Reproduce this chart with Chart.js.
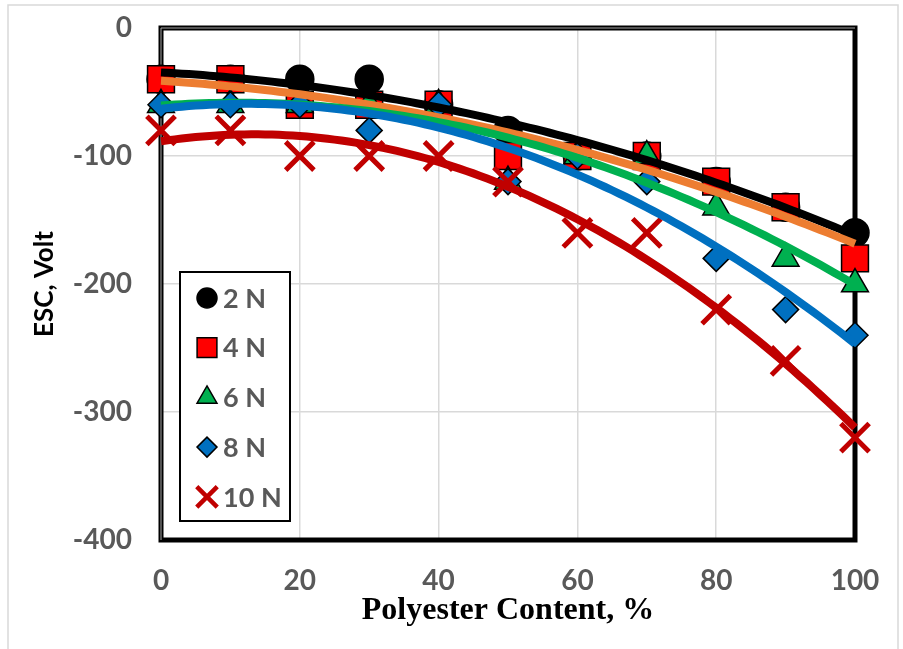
<!DOCTYPE html>
<html>
<head>
<meta charset="utf-8">
<script src="https://cdn.jsdelivr.net/npm/chart.js@4.4.1/dist/chart.umd.min.js"></script>
<style>
  html, body { margin: 0; padding: 0; background: #fff; }
  #wrap { width: 903px; height: 649px; }
</style>
</head>
<body>
<div id="wrap"><canvas id="esc"></canvas></div>
<script>
// Electrostatic charge vs. polyester content, one series per normal load
const content = [0, 10, 20, 30, 40, 50, 60, 70, 80, 90, 100];
const esc2N  = [-40, -40, -40, -40, -60, -80, -100, -100, -120, -140, -160];
const esc4N  = [-40, -40, -60, -60, -60, -100, -100, -100, -120, -140, -180];
const esc6N  = [-60, -60, -60, -60, -60, -120, -100, -100, -140, -180, -200];
const esc8N  = [-60, -60, -60, -80, -60, -120, -100, -120, -180, -220, -240];
const esc10N = [-80, -80, -100, -100, -100, -120, -160, -160, -220, -260, -320];
const loadLabels = ['2 N', '4 N', '6 N', '8 N', '10 N'];
const xTicks = [0, 20, 40, 60, 80, 100];
const yTicks = [-400, -300, -200, -100, 0];

const seriesValues = [esc2N, esc4N, esc6N, esc8N, esc10N];

// marker + trendline look for each load
const styles = [
  { pointStyle: 'circle',   radius: 14,   legendRadius: 10,  fill: '#000000', stroke: '#000000', border: 1.5, trend: '#000000' },
  { pointStyle: 'rect',     radius: 19,   legendRadius: 14,  fill: '#ff0000', stroke: '#000000', border: 1.5, trend: '#ed7d31' },
  { pointStyle: 'triangle', radius: 15.5, legendRadius: 11.5, fill: '#00b050', stroke: '#000000', border: 1.5, trend: '#00b050' },
  { pointStyle: 'rectRot',  radius: 13,   legendRadius: 10,  fill: '#0070c0', stroke: '#000000', border: 1.5, trend: '#0070c0' },
  { pointStyle: 'crossRot', radius: 20,   legendRadius: 14.5, fill: '#c00000', stroke: '#c00000', border: 5,   trend: '#c00000' }
];

// 2nd order least squares fit, returns [a, b, c] for a + b x + c x^2
function quadFit(xs, ys) {
  const s = [0, 0, 0, 0, 0], t = [0, 0, 0];
  xs.forEach((x, i) => {
    for (let k = 0; k < 5; k++) s[k] += Math.pow(x, k);
    for (let k = 0; k < 3; k++) t[k] += ys[i] * Math.pow(x, k);
  });
  const m = [[s[0], s[1], s[2]], [s[1], s[2], s[3]], [s[2], s[3], s[4]]];
  const det = a => a[0][0] * (a[1][1] * a[2][2] - a[1][2] * a[2][1])
                 - a[0][1] * (a[1][0] * a[2][2] - a[1][2] * a[2][0])
                 + a[0][2] * (a[1][0] * a[2][1] - a[1][1] * a[2][0]);
  const d = det(m);
  return [0, 1, 2].map(col => {
    const mc = m.map((row, r) => row.map((v, c) => (c === col ? t[r] : v)));
    return det(mc) / d;
  });
}

function trendPoints(ys) {
  const [a, b, c] = quadFit(content, ys);
  const pts = [];
  const lo = content[0], hi = content[content.length - 1];
  for (let x = lo; x <= hi; x += 1) pts.push({ x, y: a + b * x + c * x * x });
  return pts;
}

const datasets = [];
seriesValues.forEach((vals, i) => {
  const st = styles[i];
  datasets.push({
    label: loadLabels[i],
    data: content.map((x, j) => ({ x, y: vals[j] })),
    showLine: false,
    pointStyle: st.pointStyle,
    pointRadius: st.radius,
    pointHoverRadius: st.radius,
    backgroundColor: st.fill,
    borderColor: st.stroke,
    pointBorderWidth: st.border,
    order: 15 - i,
    clip: false
  });
});
seriesValues.forEach((vals, i) => {
  datasets.push({
    label: 'trend ' + loadLabels[i],
    data: trendPoints(vals),
    showLine: true,
    pointRadius: 0,
    borderColor: styles[i].trend,
    borderWidth: 8,
    tension: 0,
    order: 5 - i,
    clip: false
  });
});

// light outer frame of the whole figure
const outerFrame = {
  id: 'outerFrame',
  beforeDraw(chart) {
    const ctx = chart.ctx;
    ctx.save();
    ctx.fillStyle = '#fff';
    ctx.fillRect(0, 0, chart.width, chart.height);
    ctx.strokeStyle = '#d9d9d9';
    ctx.lineWidth = 1.5;
    ctx.strokeRect(8, 5, 890, 660);
    ctx.restore();
  }
};

// heavy black box around the plot area, under the markers
const plotFrame = {
  id: 'plotFrame',
  beforeDatasetsDraw(chart) {
    const { ctx, chartArea: a } = chart;
    ctx.save();
    ctx.strokeStyle = '#000';
    ctx.lineWidth = 5;
    ctx.strokeRect(a.left, a.top, a.right - a.left, a.bottom - a.top);
    ctx.strokeStyle = '#a6a6a6';
    ctx.lineWidth = 1;
    ctx.beginPath();
    ctx.moveTo(a.left, a.bottom);
    ctx.lineTo(a.left, a.top);
    ctx.lineTo(a.right, a.top);
    ctx.stroke();
    ctx.restore();
  }
};

// legend box sitting inside the plot
const insetLegend = {
  id: 'insetLegend',
  afterDraw(chart) {
    const ctx = chart.ctx;
    const bx = 180, by = 272, bw = 110, bh = 249;
    ctx.save();
    ctx.fillStyle = '#fff';
    ctx.fillRect(bx, by, bw, bh);
    ctx.strokeStyle = '#000';
    ctx.lineWidth = 2;
    ctx.strokeRect(bx, by, bw, bh);
    loadLabels.forEach((label, i) => {
      const st = styles[i];
      const cy = by + 26 + i * 49.7;
      ctx.fillStyle = st.fill;
      ctx.strokeStyle = st.stroke;
      ctx.lineWidth = st.pointStyle === 'crossRot' ? 4.5 : 1.5;
      Chart.helpers.drawPoint(ctx, {
        pointStyle: st.pointStyle,
        radius: st.legendRadius,
        rotation: 0,
        borderWidth: ctx.lineWidth
      }, 207, cy);
      ctx.fillStyle = '#595959';
      ctx.font = 'bold 27px Lato';
      ctx.textAlign = 'left';
      ctx.textBaseline = 'middle';
      ctx.fillText(label, 223, cy + 1);
    });
    ctx.restore();
  }
};

const tickFont = { family: 'Lato', size: 28, weight: 'bold' };

new Chart(document.getElementById('esc'), {
  type: 'scatter',
  data: { datasets },
  options: {
    responsive: true,
    maintainAspectRatio: false,
    animation: false,
    events: [],
    layout: { padding: { left: 0, top: 28, right: 48, bottom: 0 } },
    scales: {
      x: {
        type: 'linear',
        min: 0,
        max: 100,
        afterBuildTicks: s => { s.ticks = xTicks.map(v => ({ value: v })); },
        afterFit: s => { s.height = 109; s.paddingLeft = 0; s.paddingRight = 0; },
        grid: { color: '#d9d9d9', lineWidth: 1.5, drawTicks: false },
        border: { display: false },
        ticks: { color: '#595959', font: tickFont, padding: 24, maxRotation: 0 },
        title: {
          display: true,
          text: 'Polyester Content, %',
          color: '#000',
          font: { family: 'Liberation Serif', size: 32, weight: 'bold' },
          padding: { top: 0, bottom: 19 }
        }
      },
      y: {
        type: 'linear',
        min: -400,
        max: 0,
        afterBuildTicks: s => { s.ticks = yTicks.map(v => ({ value: v })); },
        afterFit: s => { s.width = 161; s.paddingTop = 0; s.paddingBottom = 0; },
        grid: { color: '#d9d9d9', lineWidth: 1.5, drawTicks: false },
        border: { display: false },
        ticks: { color: '#595959', font: tickFont, padding: 29 },
        title: {
          display: true,
          text: 'ESC, Volt',
          color: '#000',
          font: { family: 'Lato', size: 26, weight: 'bold' },
          padding: { top: 29, bottom: 0 }
        }
      }
    },
    plugins: {
      legend: { display: false },
      tooltip: { enabled: false }
    }
  },
  plugins: [outerFrame, plotFrame, insetLegend]
});
</script>
</body>
</html>
